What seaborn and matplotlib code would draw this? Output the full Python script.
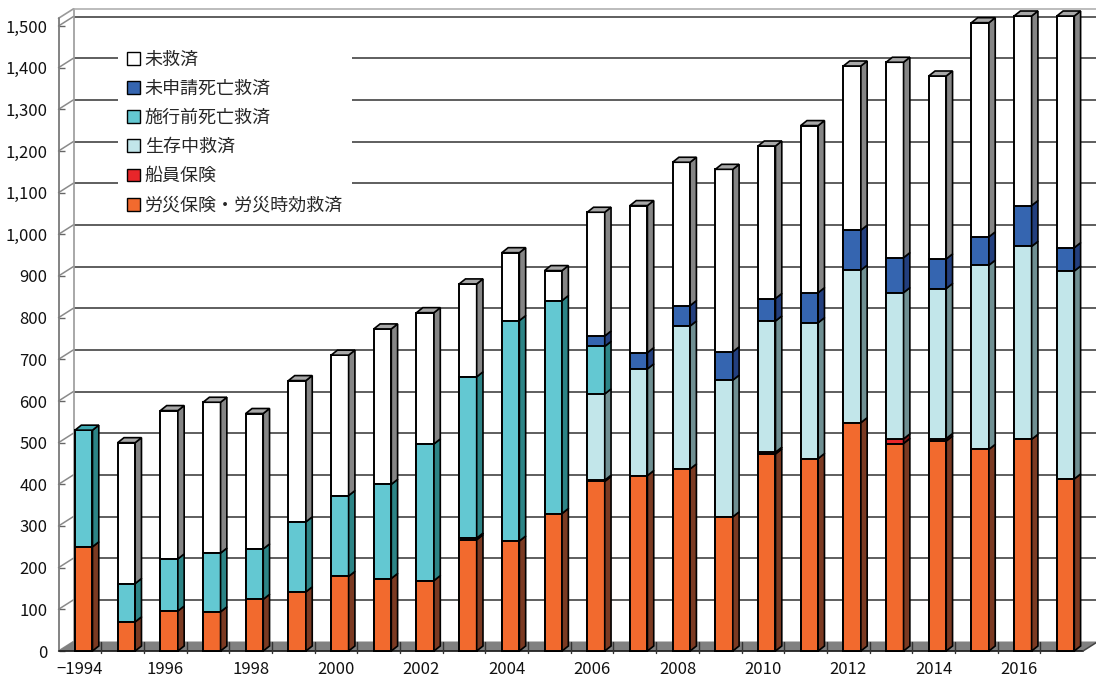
import matplotlib
matplotlib.use("Agg")
import numpy as np
import pandas as pd
import matplotlib.pyplot as plt
import seaborn as sns
from matplotlib.patches import Polygon, Patch

# ---- data (persons per year, stacked bottom -> top) ----
years = [str(y) for y in range(1994, 2018)]
year_labels = ["−1994", "", "1996", "", "1998", "", "2000", "", "2002", "", "2004", "",
               "2006", "", "2008", "", "2010", "", "2012", "", "2014", "", "2016", ""]
rousai    = [250, 70, 96, 94, 124, 142, 179, 174, 169, 267, 264, 330,
             407, 421, 437, 322, 473, 462, 548, 498, 504, 484, 508, 413]
senin     = [0, 0, 0, 0, 0, 0, 0, 0, 0, 4, 0, 0,
             3, 0, 0, 0, 4, 0, 0, 11, 6, 0, 0, 0]
seizon    = [0, 0, 0, 0, 0, 0, 0, 0, 0, 0, 0, 0,
             207, 256, 343, 328, 315, 326, 366, 351, 360, 442, 463, 499]
sekou     = [280, 92, 125, 141, 121, 168, 194, 226, 328, 387, 529, 511,
             114, 0, 0, 0, 0, 0, 0, 0, 0, 0, 0, 0]
mishinsei = [0, 0, 0, 0, 0, 0, 0, 0, 0, 0, 0, 0,
             25, 39, 49, 68, 54, 72, 96, 84, 71, 68, 98, 56]
mikyusai  = [0, 338, 356, 362, 325, 339, 337, 373, 315, 223, 163, 72,
             297, 353, 344, 438, 366, 401, 394, 469, 439, 514, 455, 556]

names = ["労災保険・労災時効救済", "船員保険", "生存中救済", "施行前死亡救済", "未申請死亡救済", "未救済"]
values = [rousai, senin, seizon, sekou, mishinsei, mikyusai]
face = ["#F26A2E", "#E8262A", "#C2E6EA", "#63C8D2", "#3565B0", "#FFFFFF"]
side = ["#7B3A22", "#7A1515", "#6F8F92", "#2C8486", "#233F7E", "#858585"]
top_c = ["#C4562A", "#B51E1E", "#9EC4C8", "#3FA9B2", "#2A4F90", "#A8A8A8"]

sns.set_theme(style="white")
plt.rcParams["font.family"] = ["Noto Sans CJK JP", "DejaVu Sans"]
plt.rcParams["axes.unicode_minus"] = False

W, H = 1096, 680
fig = plt.figure(figsize=(W / 100, H / 100), dpi=100)
fig.patch.set_facecolor("white")
x0_px, x1_px = 58.5, 1083.0
y0_px, ytop_px = 651.0, 18.3
ax = fig.add_axes([x0_px / W, (H - y0_px) / H, (x1_px - x0_px) / W, (y0_px - ytop_px) / H])
ax.set_facecolor("none")

ymax = (y0_px - ytop_px) / (625.0 / 1500.0)
ax.set_xlim(-0.5, len(years) - 0.5)
ax.set_ylim(0, ymax)

# pixel -> data conversions
px_x = (x1_px - x0_px) / len(years)
px_y = 625.0 / 1500.0
def dpx(dx, dy):
    return dx / px_x, dy / px_y

wdx, wdy = dpx(15, 9.5)     # wall depth
bdx, bdy = dpx(6.3, 5.0)    # bar depth
shift = 3.9 / px_x
bar_w = 17.5 / px_x

n = len(years)
xl, xr = -0.5, n - 0.5

# back wall, left wall and floor
gcol = "#333333"
for v in range(100, 1501, 100):
    ax.plot([xl + wdx, xr + wdx + 1], [v + wdy, v + wdy], color=gcol, lw=1.1,
            zorder=0.5, clip_on=False, solid_capstyle="butt")
for v in range(0, 1501, 100):
    ax.plot([xl, xl + wdx], [v, v + wdy], color="#8a8a8a", lw=1.1, zorder=0.6, clip_on=False)
ax.plot([xl, xl], [0, ymax], color="#7a7a7a", lw=1.3, zorder=0.7, clip_on=False)
ax.plot([xl + wdx, xl + wdx], [wdy, ymax + wdy], color="#9a9a9a", lw=1.2, zorder=0.6, clip_on=False)
ax.plot([xl, xl + wdx], [ymax, ymax + wdy], color="#9a9a9a", lw=1.2, zorder=0.6, clip_on=False)
ax.plot([xl + wdx, xr + wdx + 1], [ymax + wdy, ymax + wdy], color="#b0b0b0", lw=1.2,
        zorder=0.6, clip_on=False)

floor = Polygon([(xl, 0), (xr, 0), (xr + wdx, wdy), (xl + wdx, wdy)], closed=True,
                facecolor="#808080", edgecolor="none", zorder=0.8, clip_on=False)
ax.add_patch(floor)
ax.plot([xl, xr], [0, 0], color="#222222", lw=1.3, zorder=0.9, clip_on=False)
ax.plot([xr, xr + wdx], [0, wdy], color="#444444", lw=1.1, zorder=0.9, clip_on=False)
for k in range(n - 1):
    ax.plot([k + 0.5, k + 0.5], [-2 / px_y, wdy], color="#333333", lw=1.0, zorder=0.9, clip_on=False)

# stacked bars: cumulative totals drawn from the top layer downwards
cum = np.cumsum(np.array(values, dtype=float), axis=0)
for li in range(len(values) - 1, -1, -1):
    df = pd.DataFrame({"year": years, "total": cum[li]})
    before = len(ax.patches)
    sns.barplot(data=df, x="year", y="total", order=years, color=face[li], saturation=1,
                edgecolor="black", linewidth=1.4, width=bar_w, errorbar=None, ax=ax)
    for p in ax.patches[before:]:
        p.set_x(p.get_x() + shift)
        p.set_zorder(3)
        p.set_clip_on(False)

# depth faces of each bar
lows = np.vstack([np.zeros(n), cum[:-1]])
for i in range(n):
    xa = i - bar_w / 2 + shift
    xb = i + bar_w / 2 + shift
    for li in range(len(values)):
        lo, hi = lows[li][i], cum[li][i]
        if hi - lo <= 0:
            continue
        ax.add_patch(Polygon([(xb, lo), (xb, hi), (xb + bdx, hi + bdy), (xb + bdx, lo + bdy)],
                             closed=True, facecolor=side[li], edgecolor="black", lw=1.2,
                             zorder=3, clip_on=False))
    top_layer = max(li for li in range(len(values)) if values[li][i] > 0)
    t = cum[-1][i]
    ax.add_patch(Polygon([(xa, t), (xb, t), (xb + bdx, t + bdy), (xa + bdx, t + bdy)],
                         closed=True, facecolor=top_c[top_layer], edgecolor="black", lw=1.2,
                         zorder=3, clip_on=False))

# axes and ticks
for s in ax.spines.values():
    s.set_visible(False)
ax.set_xlabel("")
ax.set_ylabel("")
yt = list(range(0, 1501, 100))
ax.set_yticks(yt)
ax.set_yticklabels([f"{v:,}" for v in yt])
ax.set_xticks(range(n))
ax.set_xticklabels(year_labels)
ax.tick_params(axis="y", direction="in", length=4, width=1.0, color="#666666",
               pad=8, labelsize=12, labelcolor="#111111", left=True)
ax.tick_params(axis="x", length=0, pad=7, labelsize=12, labelcolor="#111111")
ax.grid(False)

# legend
order = list(range(len(values) - 1, -1, -1))
handles = [Patch(facecolor=face[i], edgecolor="black", linewidth=1.0) for i in order]
leg = ax.legend(handles, [names[i] for i in order], loc="upper left",
                bbox_to_anchor=(118 / W, 1 - 41.5 / H), bbox_transform=fig.transFigure,
                frameon=True, facecolor="white", edgecolor="none", framealpha=1,
                fancybox=False, fontsize=13, handlelength=0.72, handleheight=0.72,
                handletextpad=0.25, labelspacing=0.62, borderpad=0.5, borderaxespad=0)
leg.set_zorder(2)

fig.savefig("out.png", dpi=100, facecolor="white")
